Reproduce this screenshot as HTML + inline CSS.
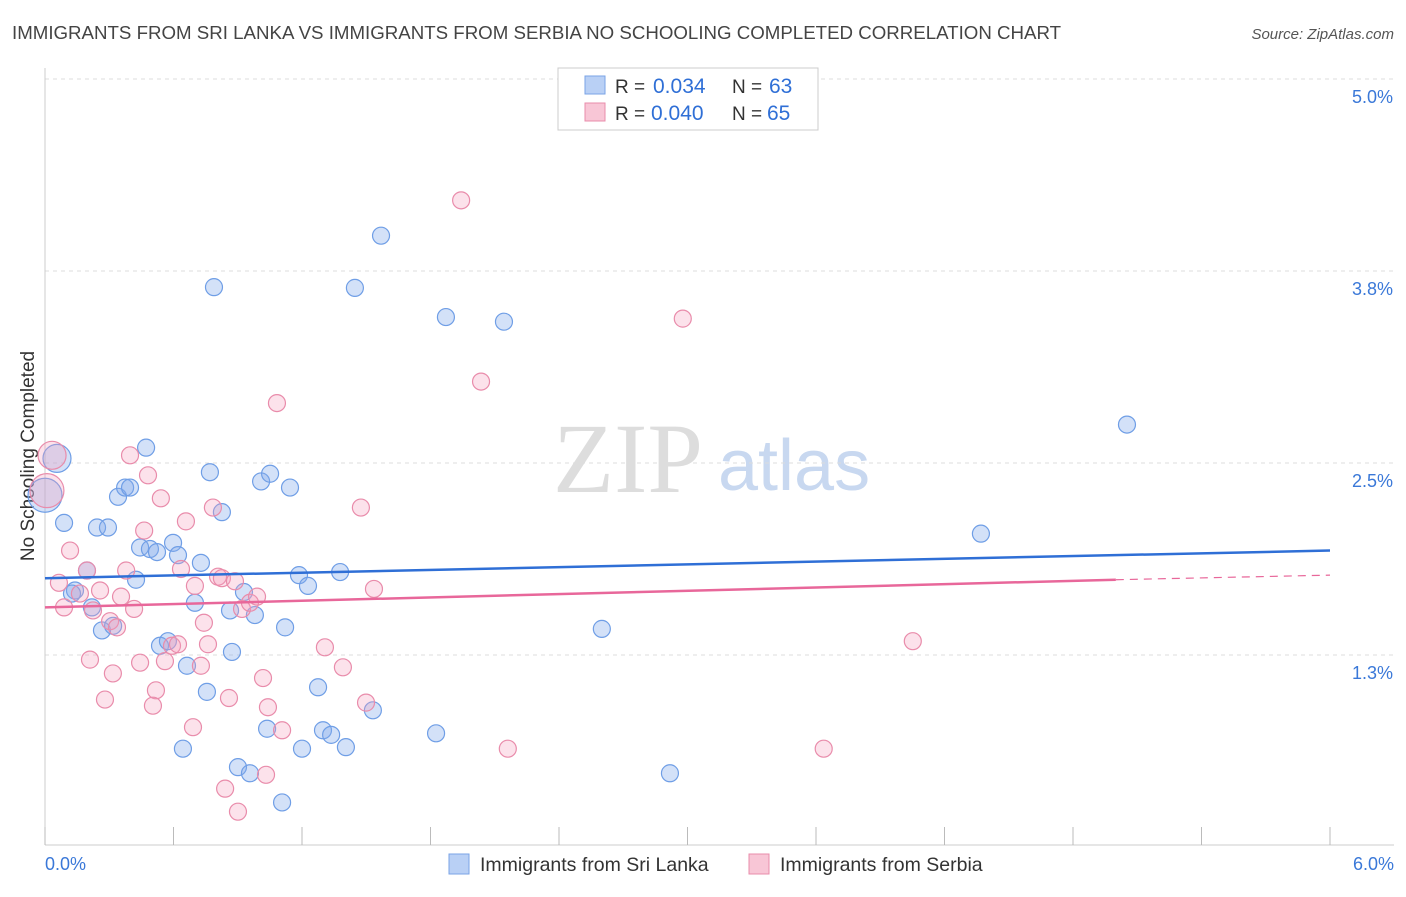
<!DOCTYPE html>
<html><head><meta charset="utf-8"><style>
body{margin:0;background:#fff;font-family:"Liberation Sans",sans-serif;}
</style></head><body>
<svg id="chart" width="1406" height="892" xmlns="http://www.w3.org/2000/svg">
<text x="12" y="39" font-size="18.7" fill="#444">IMMIGRANTS FROM SRI LANKA VS IMMIGRANTS FROM SERBIA NO SCHOOLING COMPLETED CORRELATION CHART</text>
<text x="1394" y="39" font-size="15" fill="#555" font-style="italic" text-anchor="end">Source: ZipAtlas.com</text>
<text x="553" y="492" font-size="100" fill="#ddd" font-family="Liberation Serif,serif">ZIP</text>
<text x="718" y="490" font-size="72" fill="#c8d8f0">atlas</text>
<text transform="translate(34,456) rotate(-90)" font-size="19" fill="#333" text-anchor="middle">No Schooling Completed</text>
<g id="grid"></g><g id="marks"></g>
<g>
<rect x="558" y="68" width="260" height="62" fill="#fff" stroke="#ccc"/>
<rect x="585" y="76" width="20" height="18" fill="#b9d0f5" stroke="#7aa3e6"/>
<rect x="585" y="103" width="20" height="18" fill="#f8c6d6" stroke="#e98cab"/>
<text x="615" y="93" font-size="19" fill="#333">R =</text><text x="653" y="93" font-size="21" fill="#2f6fd6">0.034</text>
<text x="732" y="93" font-size="19" fill="#333">N =</text><text x="769" y="93" font-size="21" fill="#2f6fd6">63</text>
<text x="615" y="120" font-size="19" fill="#333">R =</text><text x="651" y="120" font-size="21" fill="#2f6fd6">0.040</text>
<text x="732" y="120" font-size="19" fill="#333">N =</text><text x="767" y="120" font-size="21" fill="#2f6fd6">65</text>
</g>
<g>
<rect x="449" y="854" width="20" height="20" fill="#b9d0f5" stroke="#7aa3e6"/>
<text x="480" y="871" font-size="19.5" fill="#333">Immigrants from Sri Lanka</text>
<rect x="749" y="854" width="20" height="20" fill="#f8c6d6" stroke="#e98cab"/>
<text x="780" y="871" font-size="19.5" fill="#333">Immigrants from Serbia</text>
</g>
</svg>
<script>
const xTicks=[0,0.6,1.2,1.8,2.4,3.0,3.6,4.2,4.8,5.4,6.0];
const yTicks=[1.25,2.5,3.75,5.0];
const yTickLabels=["1.3%","2.5%","3.8%","5.0%"];
const blueX=[0.056,0,0.089,0.196,0.140,0.126,0.219,0.266,0.318,0.243,0.294,0.341,0.374,0.397,0.472,0.444,0.490,0.523,0.425,0.598,0.621,0.728,0.700,0.537,0.574,0.663,0.864,0.873,0.980,0.929,0.770,0.826,0.789,1.009,1.051,1.144,1.186,1.228,1.378,1.121,0.756,0.644,0.901,0.957,1.107,1.037,1.200,1.275,1.298,1.336,1.405,1.531,1.447,1.569,1.872,2.143,1.826,2.600,2.918,4.370,5.052];
const blueY=[2.53,2.29,2.11,1.80,1.67,1.65,1.56,1.41,1.44,2.08,2.08,2.28,2.34,2.34,2.60,1.95,1.94,1.92,1.74,1.98,1.90,1.85,1.59,1.31,1.34,1.18,1.54,1.27,1.51,1.66,2.44,2.18,3.645,2.38,2.43,2.34,1.77,1.70,1.79,1.43,1.01,0.64,0.52,0.48,0.29,0.77,0.64,1.04,0.76,0.73,0.65,0.89,3.64,3.98,3.45,3.42,0.74,1.42,0.48,2.04,2.75];
const pinkX=[0.033,0.009,0.117,0.196,0.065,0.089,0.163,0.257,0.224,0.304,0.336,0.210,0.280,0.317,0.355,0.379,0.416,0.397,0.481,0.463,0.541,0.444,0.518,0.504,0.560,0.593,0.621,0.635,0.658,0.700,0.728,0.742,0.761,0.691,0.784,0.808,0.826,0.887,0.859,0.920,0.957,0.990,1.018,1.041,0.841,0.901,1.032,1.083,1.107,1.307,1.391,1.475,1.536,1.499,2.036,1.943,2.161,2.978,3.636,4.052];
const pinkY=[2.55,2.32,1.93,1.80,1.72,1.56,1.65,1.67,1.54,1.47,1.43,1.22,0.96,1.13,1.63,1.80,1.55,2.55,2.42,2.06,2.27,1.20,1.02,0.92,1.21,1.31,1.32,1.81,2.12,1.70,1.18,1.46,1.32,0.78,2.21,1.76,1.75,1.73,0.97,1.55,1.59,1.63,1.10,0.91,0.38,0.23,0.47,2.89,0.76,1.30,1.17,2.21,1.68,0.94,3.03,4.21,0.64,3.44,0.64,1.34];
const x0=45,x1=1330,yZero=847,pxPer=153.6;
const sx=v=>x0+v/6*(x1-x0), sy=v=>yZero-v*pxPer;
const NS="http://www.w3.org/2000/svg";
const grid=document.getElementById('grid'),marks=document.getElementById('marks');
function mk(tag,attrs,parent){const e=document.createElementNS(NS,tag);for(const k in attrs)e.setAttribute(k,attrs[k]);parent.appendChild(e);return e;}
yTicks.forEach((t,i)=>{
 const l=mk('line',{x1:45,x2:1394,y1:sy(t),y2:sy(t),stroke:'#ddd','stroke-dasharray':'4,4'},grid);
 
 
 const tx=mk('text',{x:1393,y:sy(t)+24,'font-size':18,fill:'#3a78d8','text-anchor':'end'},grid);
 tx.textContent=yTickLabels[i];
 
 
});
const ax=mk('line',{x1:45,x2:1394,y1:845,y2:845,stroke:'#ccc'},grid);


const ay=mk('line',{x1:45,x2:45,y1:68,y2:845,stroke:'#ccc'},grid);


xTicks.forEach(t=>{const l=mk('line',{x1:sx(t),x2:sx(t),y1:827,y2:845,stroke:'#bbb'},grid);
 
 });
[['0.0%',45,'start'],['6.0%',1394,'end']].forEach(([s,x,a])=>{const t=mk('text',{x:x,y:870,'font-size':18,fill:'#3a78d8','text-anchor':a},grid);t.textContent=s;
 
 });
function big(x,y){return (x<0.07&&y>2.2)?(y>2.4?14:17):8.5;}
blueX.forEach((v,i)=>{const c=mk('circle',{cx:sx(v),cy:sy(blueY[i]),r:big(v,blueY[i]),fill:'rgba(130,170,235,0.35)',stroke:'#6f9ee6','stroke-width':1.2},marks);
 
 });
pinkX.forEach((v,i)=>{const c=mk('circle',{cx:sx(v),cy:sy(pinkY[i]),r:big(v,pinkY[i]),fill:'rgba(245,160,190,0.3)',stroke:'#e98cab','stroke-width':1.2},marks);
 
 });
const bl=mk('line',{x1:sx(0),y1:sy(1.75),x2:sx(6),y2:sy(1.93),stroke:'#2f6fd6','stroke-width':2.5},marks);


const pl=mk('line',{x1:sx(0),y1:sy(1.56),x2:sx(5.0),y2:sy(1.74),stroke:'#e8679a','stroke-width':2.5},marks);


const pd=mk('line',{x1:sx(5.0),y1:sy(1.74),x2:sx(6),y2:sy(1.77),stroke:'#e8679a','stroke-width':1.2,'stroke-dasharray':'8,6'},marks);


</script>
</body></html>
